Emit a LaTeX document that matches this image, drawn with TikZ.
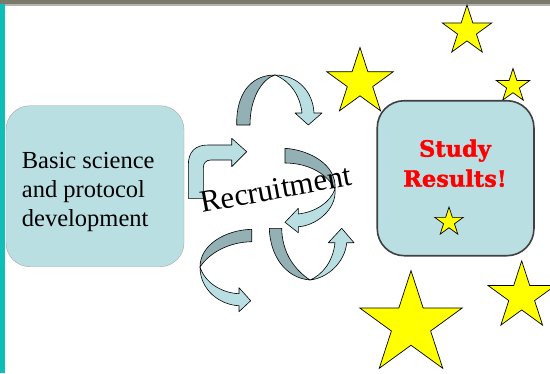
\documentclass[tikz,border=0pt]{standalone}
\usepackage{fontspec}
\setmainfont{Liberation Serif}
\newfontfamily\resultsfont[FakeBold=1.5]{DejaVu Serif Bold}
\usepackage{tikz}
\usetikzlibrary{shapes.geometric}
\definecolor{boxfill}{HTML}{B9DFE3}
\definecolor{bandback}{HTML}{93B1B5}
\definecolor{barcol}{HTML}{7A7A6C}
\definecolor{barline}{HTML}{B4B4AC}
\definecolor{tealbar}{HTML}{10BEB8}
\definecolor{starfill}{HTML}{FFFF00}
\definecolor{resultred}{HTML}{FF0000}
\tikzset{
  stagebox/.style={draw=#1, fill=boxfill, rounded corners=24pt, inner sep=0pt},
  bandfront/.style={draw=black, fill=boxfill, line width=0.6pt, line join=round},
  bandrear/.style={draw=black, fill=bandback, line width=0.6pt, line join=round},
  yellowstar/.style={star, star points=5, star point ratio=2.618, minimum size=#1,
    inner sep=0pt, outer sep=0pt, draw=black, fill=starfill, line width=0.7pt},
  lab/.style={inner sep=0pt, font=\fontsize{24.5}{29}\selectfont},
}

\begin{document}
\begin{tikzpicture}[x=1pt, y=-1pt]
  \useasboundingbox (0,0) rectangle (550,373);
  \fill[white] (0,0) rectangle (550,373);
  \fill[barcol] (0,0) rectangle (550,4.2);
  \fill[barline] (0,4.2) rectangle (550,6);
  \fill[tealbar] (0,4.2) rectangle (5.3,373);

  \node[stagebox=black!35, minimum width=178pt, minimum height=161pt] (basic) at (95,186.2) {};
  \node[lab, anchor=north west, align=left] (basictext) at (21.7,151.6)
    {Basic science\\and protocol\\development};

  \node[yellowstar=52pt] (startop) at (467,31) {};
  \node[yellowstar=70pt] (starleft) at (360,82.5) {};
  \node[yellowstar=35pt] (starright) at (513,86) {};
  \node[yellowstar=108pt] (starbig) at (411,324.6) {};
  \node[yellowstar=71pt] (starcorner) at (521.7,296.4) {};

  \node[stagebox=black!75, line width=1.6pt, rounded corners=27pt,
    minimum width=156.7pt, minimum height=155pt] (results) at (455.6,178.2) {};
  \node[inner sep=0pt, anchor=north, align=center, text=resultred,
    font=\resultsfont\fontsize{22.5}{30}\selectfont] (resultstext) at (455,139.4)
    {Study\\Results!};
  \node[yellowstar=30pt] (starinside) at (449,222) {};

  \draw[bandrear] (236.7,125) .. controls (236,95) and (250,75) .. (275,75)
    .. controls (262,79) and (250,98) .. (250,125) -- cycle;
  \draw[bandfront] (275,75) .. controls (298,75) and (313,92) .. (314,113)
    -- (322,113) -- (308.3,125) -- (295,113) -- (302,113)
    .. controls (300,95) and (290,81) .. (275,75) -- cycle;

  \draw[bandfront] (188.3,198.3) -- (188.3,165) .. controls (188.3,152) and (195,145) .. (208,145)
    -- (231.7,145) -- (231.7,138.3) -- (246.7,151.7) -- (231.7,166.7) -- (231.7,160)
    -- (211,160) .. controls (206,160) and (203.3,163) .. (203.3,168) -- (203.3,198.3) -- cycle;

  \draw[bandrear] (285,148.3) .. controls (310,150) and (337,165) .. (335,189)
    .. controls (325,171) and (305,163) .. (285,163) -- cycle;
  \draw[bandfront] (335,189) .. controls (337,210) and (315,226) .. (298.3,226.7)
    -- (298.3,232.7) -- (285,222.3) -- (298.3,208.3) -- (298.3,214)
    .. controls (315,212) and (330,203) .. (335,189) -- cycle;

  \draw[bandrear] (251.7,229.3) .. controls (225,230) and (200,245) .. (200,267)
    .. controls (210,252) and (230,242) .. (251.7,241.7) -- cycle;
  \draw[bandfront] (200,267) .. controls (200,290) and (220,305) .. (239,305.7)
    -- (239,311.7) -- (250.7,300.7) -- (239,287.7) -- (239,293.7)
    .. controls (222,293) and (205,283) .. (200,267) -- cycle;

  \draw[bandrear] (269.3,228.3) .. controls (270,255) and (285,278) .. (310,280)
    .. controls (292,268) and (282,250) .. (281.7,228.3) -- cycle;
  \draw[bandfront] (310,280) .. controls (328,278) and (345,262) .. (346.7,242.7)
    -- (354,242.7) -- (341.7,228.3) -- (328.3,242.7) -- (335,242.7)
    .. controls (333,262) and (322,275) .. (310,280) -- cycle;

  \node[anchor=base, rotate=10.5, inner sep=0pt, font=\fontsize{31}{36}\selectfont]
    (recruit) at (277.5,199) {Recruitment};
\end{tikzpicture}
\end{document}
